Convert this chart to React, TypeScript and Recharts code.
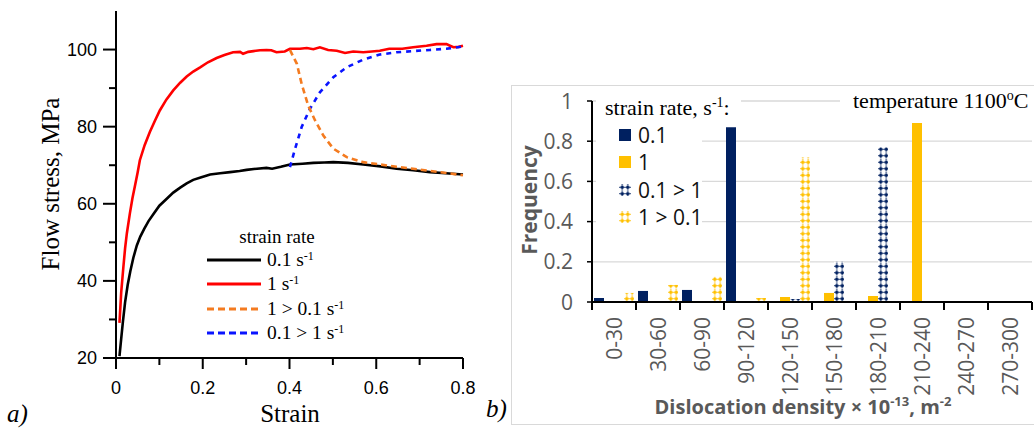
import React from "react";
import { LineChart, Line, BarChart, Bar, XAxis, YAxis, CartesianGrid, Legend } from "recharts";

// ---------- a) flow curves ----------
const strainTicks = [0, 0.1, 0.2, 0.3, 0.4, 0.5, 0.6, 0.7, 0.8];
const stressTicks = [20, 30, 40, 50, 60, 70, 80, 90, 100];

// 0.1 s-1
const strain01 = [0.008, 0.012, 0.016, 0.021, 0.027, 0.033, 0.04, 0.048, 0.056, 0.065, 0.075, 0.086, 0.1, 0.117, 0.132, 0.148, 0.163, 0.178, 0.195, 0.217, 0.24, 0.263, 0.285, 0.301, 0.325, 0.347, 0.36, 0.38, 0.401, 0.43, 0.455, 0.48, 0.501, 0.535, 0.57, 0.61, 0.647, 0.685, 0.724, 0.76, 0.8];
const stress01 = [20.5, 25, 29.5, 34.5, 39, 42.5, 46, 49.2, 51.5, 53.5, 55.5, 57.3, 59.5, 61.3, 62.9, 64.2, 65.3, 66.2, 66.8, 67.6, 67.9, 68.2, 68.5, 68.8, 69.1, 69.3, 69.1, 69.6, 70.2, 70.4, 70.6, 70.7, 70.8, 70.6, 70.2, 69.7, 69.1, 68.7, 68.2, 67.9, 67.6];

// 1 s-1
const strain1 = [0.008, 0.012, 0.017, 0.021, 0.025, 0.032, 0.038, 0.044, 0.05, 0.055, 0.066, 0.078, 0.09, 0.101, 0.116, 0.132, 0.148, 0.163, 0.178, 0.194, 0.212, 0.232, 0.25, 0.27, 0.286, 0.293, 0.305, 0.317, 0.332, 0.347, 0.358, 0.37, 0.389, 0.401, 0.424, 0.44, 0.455, 0.47, 0.489, 0.509, 0.528, 0.547, 0.57, 0.59, 0.608, 0.63, 0.66, 0.685, 0.716, 0.739, 0.762, 0.77, 0.778, 0.79, 0.8];
const stress1 = [29.1, 37, 43.6, 48.5, 52.3, 57.5, 61.5, 64.8, 68.2, 71.3, 75.2, 78.6, 81.6, 84.2, 87, 89.4, 91.4, 93, 94.3, 95.4, 96.7, 97.8, 98.6, 99.3, 99.4, 98.9, 99.4, 99.6, 99.8, 99.9, 99.8, 99.3, 99.5, 100.2, 100.2, 100.4, 100.1, 100.6, 99.9, 99.7, 99.1, 99.5, 99.3, 99.5, 99.7, 100.2, 100.2, 100.6, 101, 101.4, 101.4, 101, 100.6, 100.7, 101];

// 1 > 0.1 s-1
const strainDown = [0.401, 0.417, 0.428, 0.443, 0.459, 0.478, 0.501, 0.532, 0.57, 0.608, 0.647, 0.685, 0.747, 0.8];
const stressDown = [99.9, 96.3, 91.1, 85.5, 81.6, 77.7, 74.3, 72.1, 70.8, 70.2, 69.6, 69.1, 68.2, 67.4];

// 0.1 > 1 s-1
const strainUp = [0.401, 0.413, 0.428, 0.447, 0.47, 0.501, 0.532, 0.57, 0.608, 0.647, 0.685, 0.724, 0.762, 0.8];
const stressUp = [69.5, 74.3, 79.9, 84.6, 88.9, 92.8, 95.4, 97.4, 98.7, 99.3, 99.6, 99.9, 100.2, 100.8];

const curves = [
  { label: "0.1", x: strain01, y: stress01, color: "#000000", dash: undefined },
  { label: "1", x: strain1, y: stress1, color: "#ff0000", dash: undefined },
  { label: "1 > 0.1", x: strainDown, y: stressDown, color: "#f47b20", dash: "6 4" },
  { label: "0.1 > 1", x: strainUp, y: stressUp, color: "#0a14ff", dash: "5 5" },
];
const drawOrder = [0, 1, 3, 2];

const toPoints = (xs: number[], ys: number[]) => xs.map((x, i) => ({ x, y: ys[i] }));

// ---------- b) dislocation density histogram ----------
const densityBins = ["0-30", "30-60", "60-90", "90-120", "120-150", "150-180", "180-210", "210-240", "240-270", "270-300"];
const freq01 = [0.02, 0.055, 0.06, 0.87, 0, 0, 0, 0, 0, 0];
const freq1 = [0.005, 0, 0, 0, 0.025, 0.045, 0.03, 0.89, 0, 0];
const freq01to1 = [0, 0, 0, 0.005, 0.015, 0.2, 0.77, 0, 0, 0];
const freq1to01 = [0.045, 0.085, 0.125, 0.02, 0.72, 0, 0, 0, 0, 0];
const freqTicks = [0, 0.2, 0.4, 0.6, 0.8, 1];

const freqData = densityBins.map((bin, i) => ({
  bin,
  r01: freq01[i],
  r1: freq1[i],
  r01to1: freq01to1[i],
  r1to01: freq1to01[i],
}));

const NAVY = "#002060";
const GOLD = "#ffc000";
const GRAY_TXT = "#595959";
const SERIF = "'Liberation Serif', 'Times New Roman', serif";
const SANS = "'Liberation Sans', Arial, sans-serif";
const XL = "'Open Sans', sans-serif";

// bar chart geometry
const B_W = 534;
const B_H = 353;
const B_YAXIS = 92;
const B_RIGHT = 2;
const BAND = (B_W - B_YAXIS - B_RIGHT) / densityBins.length;
const CAT_GAP = 2;
const BAR = (BAND - 2 * CAT_GAP) / 4;
const B_TOP = 21;
const B_XAXIS = 131;
const BASE_Y = B_H - B_XAXIS;

const isMajorStrain = (v: number) => Math.round(v * 10) % 2 === 0;

const StrainTick = (props: any) => {
  const { x, y, payload } = props;
  const major = isMajorStrain(payload.value);
  return (
    <g>
      <line x1={x} x2={x} y1={y} y2={y + (major ? 11 : 7)} stroke="#000" strokeWidth={2} />
      {major && (
        <text x={x} y={y + 30} dy="0.35em" textAnchor="middle" fontFamily={SANS} fontSize={18} fill="#000">
          {payload.value}
        </text>
      )}
    </g>
  );
};

const StressTick = (props: any) => {
  const { x, y, payload } = props;
  const major = payload.value % 20 === 0;
  return (
    <g>
      <line x1={x} x2={x - (major ? 13 : 7)} y1={y} y2={y} stroke="#000" strokeWidth={2} />
      {major && (
        <text x={x - 19} y={y} dy="0.35em" textAnchor="end" fontFamily={SANS} fontSize={18} fill="#000">
          {payload.value}
        </text>
      )}
    </g>
  );
};

const FreqTick = (props: any) => {
  const { x, y, payload } = props;
  return (
    <g>
      <line x1={x} x2={x - 5} y1={y} y2={y} stroke="#000" strokeWidth={1.5} />
      <text x={x - 19} y={y} dy="0.36em" textAnchor="end" fontFamily={XL} fontSize={21} fill={GRAY_TXT}>
        {payload.value}
      </text>
    </g>
  );
};

const BinTick = (props: any) => {
  const { x, y, payload, index } = props;
  const h = BAND / 2;
  return (
    <g>
      <line x1={x - h} x2={x - h} y1={y} y2={y + 8} stroke="#000" strokeWidth={2} />
      {index === densityBins.length - 1 && (
        <line x1={x + h} x2={x + h} y1={y} y2={y + 8} stroke="#000" strokeWidth={2} />
      )}
      <text
        x={x}
        y={y + 15}
        dy="0.36em"
        transform={`rotate(-90 ${x} ${y + 15})`}
        textAnchor="end"
        fontFamily={XL}
        fontSize={21}
        fill={GRAY_TXT}
      >
        {payload.value}
      </text>
    </g>
  );
};

const LineLegend = () => (
  <div style={{ position: "relative", width: 200, height: 125, fontFamily: SERIF, color: "#000" }}>
    <div style={{ position: "absolute", left: 0, width: 164, top: 1, textAlign: "center", fontSize: 19, lineHeight: "24px" }}>
      strain rate
    </div>
    {curves.map((c, i) => (
      <div key={c.label} style={{ position: "absolute", left: 0, top: 36 + i * 24.3 - 12, height: 24, width: 200 }}>
        <svg width={56} height={24} style={{ position: "absolute", left: 12, top: 0 }}>
          <line x1={0} x2={54} y1={12} y2={12} stroke={c.color} strokeWidth={3} strokeDasharray={c.dash ? "7 4" : undefined} />
        </svg>
        <span style={{ position: "absolute", left: 72, top: 0, fontSize: 19.5, lineHeight: "24px", whiteSpace: "nowrap" }}>
          {c.label} s<sup style={{ fontSize: 12, verticalAlign: "6px", lineHeight: 0 }}>-1</sup>
        </span>
      </div>
    ))}
  </div>
);

const barLegend = [
  { label: "0.1", fill: NAVY },
  { label: "1", fill: GOLD },
  { label: "0.1 > 1", fill: "url(#lgNavy)" },
  { label: "1 > 0.1", fill: "url(#lgGold)" },
];

const DotPattern = ({ id, color, x, y }: { id: string; color: string; x: number; y: number }) => (
  <pattern id={id} patternUnits="userSpaceOnUse" x={x} y={y} width={5.5} height={6.5}>
    <rect width={5.5} height={6.5} fill="#fff" />
    <line x1={2.75} x2={2.75} y1={0} y2={6.5} stroke={color} strokeWidth={1} strokeDasharray="1 1" />
    <line x1={0} x2={5.5} y1={3.25} y2={3.25} stroke={color} strokeWidth={0.8} />
    <path d="M2.75 0.9 L5.1 3.25 L2.75 5.6 L0.4 3.25 Z" fill={color} />
  </pattern>
);

const BarLegend = () => (
  <div style={{ position: "relative", width: 145, height: 140 }}>
    <div style={{ position: "absolute", left: 0, top: 0, width: 145, height: 24, background: "#fff" }} />
    <div style={{ position: "absolute", left: 0, top: 24, width: 106, height: 114, background: "#fff" }} />
    <div style={{ position: "absolute", left: 9, top: -1, fontFamily: SERIF, fontSize: 22, lineHeight: "24px", whiteSpace: "nowrap", color: "#000" }}>
      strain rate, s<sup style={{ fontSize: 14, verticalAlign: "8px", lineHeight: 0 }}>-1</sup>:
    </div>
    {barLegend.map((b, i) => (
      <div key={b.label} style={{ position: "absolute", left: 0, top: 38 + i * 27.3 - 13, height: 26, width: 106 }}>
        <svg width={12} height={12} style={{ position: "absolute", left: 23, top: 7 }}>
          <defs>
            <DotPattern id="lgNavy" color={NAVY} x={0.5} y={0} />
            <DotPattern id="lgGold" color={GOLD} x={0.5} y={0} />
          </defs>
          <rect width={12} height={12} fill={b.fill} />
        </svg>
        <span style={{ position: "absolute", left: 42, top: 0, fontFamily: XL, fontSize: 21, lineHeight: "26px", color: "#111", whiteSpace: "nowrap" }}>
          {b.label}
        </span>
      </div>
    ))}
  </div>
);

export default function App() {
  return (
    <div style={{ position: "absolute", left: 0, top: 0, width: 1034, height: 433, overflow: "hidden", background: "#fff" }}>
      {/* a) */}
      <div style={{ position: "absolute", left: 0, top: 0 }}>
        <LineChart width={480} height={433} margin={{ top: 11, right: 17, bottom: 0, left: 0 }}>
          <XAxis
            type="number"
            dataKey="x"
            domain={[0, 0.8]}
            ticks={strainTicks}
            interval={0}
            height={75}
            tickSize={0}
            tickMargin={0}
            tickLine={false}
            axisLine={{ stroke: "#000", strokeWidth: 2 }}
            tick={<StrainTick />}
          />
          <YAxis
            type="number"
            domain={[20, 110]}
            ticks={stressTicks}
            interval={0}
            width={116}
            tickSize={0}
            tickMargin={0}
            tickLine={false}
            axisLine={{ stroke: "#000", strokeWidth: 2 }}
            tick={<StressTick />}
          />
          {drawOrder.map((k) => {
            const c = curves[k];
            return (
              <Line
                key={c.label}
                data={toPoints(c.x, c.y)}
                dataKey="y"
                type="linear"
                stroke={c.color}
                strokeWidth={2.6}
                strokeDasharray={c.dash}
                dot={false}
                activeDot={false}
                isAnimationActive={false}
              />
            );
          })}
          <Legend
            layout="vertical"
            align="center"
            verticalAlign="middle"
            wrapperStyle={{ left: 195, top: 224, width: 200, height: 125 }}
            content={() => <LineLegend />}
          />
          <text x={50} y={184} transform="rotate(-90 50 184)" textAnchor="middle" dy="0.35em" fontFamily={SERIF} fontSize={25} fill="#000">
            Flow stress, MPa
          </text>
          <text x={290} y={413} textAnchor="middle" dy="0.35em" fontFamily={SERIF} fontSize={25} fill="#000">
            Strain
          </text>
        </LineChart>
      </div>
      <div style={{ position: "absolute", left: 7, top: 401, fontFamily: SERIF, fontStyle: "italic", fontSize: 25, lineHeight: 1 }}>a)</div>

      {/* b) */}
      <div style={{ position: "absolute", left: 511, top: 85, width: 560, height: 340, border: "1px solid #d9d9d9", boxSizing: "border-box" }} />
      <div style={{ position: "absolute", left: 500, top: 80 }}>
        <BarChart
          width={B_W}
          height={B_H}
          data={freqData}
          margin={{ top: B_TOP, right: B_RIGHT, bottom: 0, left: 0 }}
          barCategoryGap={CAT_GAP}
          barGap={0}
        >
          <defs>
            <DotPattern id="dotNavy" color={NAVY} x={B_YAXIS + CAT_GAP + 2 * BAR} y={BASE_Y} />
            <DotPattern id="dotGold" color={GOLD} x={B_YAXIS + CAT_GAP + 3 * BAR} y={BASE_Y} />
          </defs>
          <CartesianGrid vertical={false} stroke="#d9d9d9" strokeWidth={1.3} />
          <XAxis
            dataKey="bin"
            interval={0}
            height={B_XAXIS}
            tickSize={0}
            tickMargin={0}
            tickLine={false}
            axisLine={{ stroke: "#000", strokeWidth: 2 }}
            tick={<BinTick />}
          />
          <YAxis
            type="number"
            domain={[0, 1]}
            ticks={freqTicks}
            interval={0}
            width={B_YAXIS}
            tickSize={0}
            tickMargin={0}
            tickLine={false}
            axisLine={{ stroke: "#000", strokeWidth: 2 }}
            tick={<FreqTick />}
          />
          <Bar dataKey="r01" fill={NAVY} isAnimationActive={false} />
          <Bar dataKey="r1" fill={GOLD} isAnimationActive={false} />
          <Bar dataKey="r01to1" fill="url(#dotNavy)" isAnimationActive={false} />
          <Bar dataKey="r1to01" fill="url(#dotGold)" isAnimationActive={false} />
          <Legend
            layout="vertical"
            align="center"
            verticalAlign="middle"
            wrapperStyle={{ left: 96, top: 17, width: 145, height: 140 }}
            content={() => <BarLegend />}
          />
          <text x={30} y={120} transform="rotate(-90 30 120)" textAnchor="middle" dy="0.35em" fontFamily={XL} fontWeight="bold" fontSize={21} fill={GRAY_TXT}>
            Frequency
          </text>
          <text x={303} y={327} textAnchor="middle" dy="0.35em" fontFamily={XL} fontWeight="bold" fontSize={20} fill={GRAY_TXT}>
            Dislocation density × 10
            <tspan dy={-8} fontSize={13}>-13</tspan>
            <tspan dy={8}>, m</tspan>
            <tspan dy={-8} fontSize={13}>-2</tspan>
          </text>
        </BarChart>
      </div>
      <div style={{ position: "absolute", left: 840, top: 87, width: 200, height: 28, background: "#fff" }}>
        <span style={{ position: "absolute", left: 13, top: 2, fontFamily: SERIF, fontSize: 22, lineHeight: "24px", whiteSpace: "nowrap", color: "#000" }}>
          temperature 1100<sup style={{ fontSize: 14, verticalAlign: "8px", lineHeight: 0 }}>o</sup>C
        </span>
      </div>
      <div style={{ position: "absolute", left: 486, top: 396, fontFamily: SERIF, fontStyle: "italic", fontSize: 25, lineHeight: 1 }}>b)</div>
    </div>
  );
}
